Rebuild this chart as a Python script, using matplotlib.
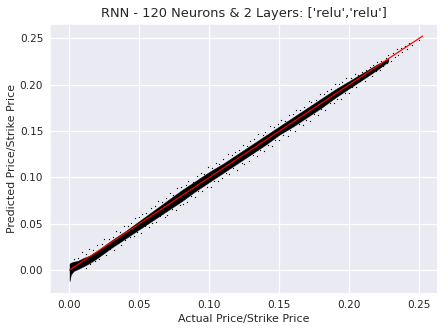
import matplotlib
matplotlib.use("Agg")
import matplotlib.pyplot as plt
import seaborn as sns

# dense part of the cloud
band_x = [0.0, 0.001, 0.003, 0.006, 0.01, 0.015, 0.02, 0.03, 0.04, 0.05, 0.06, 0.07, 0.08, 0.09, 0.10,
          0.11, 0.12, 0.13, 0.14, 0.15, 0.16, 0.17, 0.18, 0.19, 0.20, 0.21, 0.22, 0.228]
band_lo = [-0.012, -0.005, -0.001, 0.001, 0.004, 0.008, 0.013, 0.024, 0.034, 0.044, 0.054, 0.064, 0.074, 0.085, 0.095,
           0.105, 0.115, 0.125, 0.135, 0.146, 0.155, 0.165, 0.175, 0.186, 0.196, 0.206, 0.216, 0.225]
band_hi = [0.007, 0.008, 0.009, 0.010, 0.013, 0.016, 0.021, 0.032, 0.042, 0.053, 0.064, 0.075, 0.086, 0.096, 0.106,
           0.115, 0.125, 0.135, 0.145, 0.155, 0.165, 0.175, 0.185, 0.195, 0.204, 0.213, 0.222, 0.228]

# loose points above the dense part
upper_x = [0.003, 0.006, 0.009, 0.012, 0.014, 0.017, 0.02, 0.023, 0.025, 0.028, 0.031, 0.033, 0.036, 0.039, 0.042,
           0.044, 0.047, 0.05, 0.052, 0.055, 0.058, 0.061, 0.063, 0.066, 0.069, 0.072, 0.074, 0.077, 0.08, 0.083,
           0.085, 0.088, 0.091, 0.094, 0.096, 0.099, 0.102, 0.105, 0.107, 0.11, 0.113, 0.116, 0.118, 0.121, 0.124,
           0.127, 0.129, 0.132, 0.135, 0.138, 0.14, 0.143, 0.146, 0.149, 0.151, 0.154, 0.157, 0.16, 0.162, 0.165,
           0.168, 0.171, 0.173, 0.176, 0.179, 0.182, 0.184, 0.187, 0.19, 0.193, 0.195, 0.198, 0.201, 0.204, 0.206,
           0.209, 0.212, 0.215, 0.217, 0.22, 0.223, 0.226, 0.228, 0.231, 0.234, 0.237, 0.24, 0.243]
upper_y = [0.012, 0.013, 0.019, 0.017, 0.023, 0.022, 0.027, 0.028, 0.033, 0.034, 0.036, 0.042, 0.041, 0.048, 0.047,
           0.051, 0.056, 0.057, 0.061, 0.062, 0.067, 0.069, 0.074, 0.073, 0.078, 0.083, 0.081, 0.088, 0.09, 0.092,
           0.096, 0.095, 0.101, 0.105, 0.104, 0.111, 0.11, 0.116, 0.114, 0.12, 0.125, 0.124, 0.127, 0.13, 0.135,
           0.134, 0.139, 0.141, 0.147, 0.146, 0.149, 0.155, 0.154, 0.158, 0.162, 0.161, 0.167, 0.168, 0.173, 0.173,
           0.176, 0.182, 0.181, 0.184, 0.19, 0.19, 0.193, 0.195, 0.201, 0.201, 0.203, 0.207, 0.207, 0.211, 0.21,
           0.214, 0.216, 0.219, 0.221, 0.224, 0.226, 0.229, 0.232, 0.234, 0.238, 0.24, 0.242, 0.245]

# loose points below the dense part
lower_x = [0.012, 0.015, 0.018, 0.021, 0.024, 0.026, 0.029, 0.032, 0.035, 0.037, 0.04, 0.043, 0.046, 0.048, 0.051,
           0.054, 0.057, 0.059, 0.062, 0.065, 0.068, 0.07, 0.073, 0.076, 0.079, 0.081, 0.084, 0.087, 0.09, 0.092,
           0.095, 0.098, 0.101, 0.103, 0.106, 0.109, 0.112, 0.114, 0.117, 0.12, 0.123, 0.125, 0.128, 0.131, 0.134,
           0.136, 0.139, 0.142, 0.145, 0.147, 0.15, 0.153, 0.156, 0.158, 0.161, 0.164, 0.167, 0.169, 0.172, 0.175,
           0.178, 0.18, 0.183, 0.186, 0.189, 0.191, 0.194, 0.197, 0.2, 0.202, 0.205, 0.208, 0.211, 0.213, 0.216,
           0.219, 0.222, 0.224, 0.227, 0.23, 0.233, 0.235, 0.238, 0.241, 0.245, 0.25]
lower_y = [0.002, 0.007, 0.01, 0.012, 0.018, 0.016, 0.023, 0.022, 0.029, 0.027, 0.032, 0.036, 0.037, 0.041, 0.04,
           0.048, 0.046, 0.051, 0.052, 0.058, 0.057, 0.059, 0.066, 0.065, 0.07, 0.071, 0.073, 0.08, 0.079, 0.085,
           0.085, 0.09, 0.09, 0.096, 0.096, 0.099, 0.105, 0.104, 0.11, 0.108, 0.116, 0.114, 0.118, 0.124, 0.123,
           0.129, 0.128, 0.135, 0.134, 0.14, 0.14, 0.146, 0.145, 0.151, 0.15, 0.158, 0.156, 0.162, 0.161, 0.168,
           0.167, 0.174, 0.173, 0.18, 0.18, 0.185, 0.185, 0.191, 0.191, 0.198, 0.198, 0.204, 0.204, 0.209, 0.209,
           0.215, 0.216, 0.22, 0.223, 0.226, 0.23, 0.232, 0.235, 0.238, 0.243, 0.248]

line_x = [0.0, 0.2525]
line_y = [0.0, 0.2525]

xticks = [0.00, 0.05, 0.10, 0.15, 0.20, 0.25]
yticks = [0.00, 0.05, 0.10, 0.15, 0.20, 0.25]

sns.set_style("darkgrid")
plt.rcParams['font.family'] = ['DejaVu Sans']

fig, ax = plt.subplots(figsize=(448 / 72, 333 / 72), dpi=72)
fig.subplots_adjust(left=0.112, right=0.975, top=0.928, bottom=0.12)

ax.grid(True, lw=1.2)
ax.fill_between(band_x, band_lo, band_hi, color='black', lw=0.4)
ax.scatter(upper_x, upper_y, s=1.6, color='black', lw=0, marker='o')
ax.scatter(lower_x, lower_y, s=1.6, color='black', lw=0, marker='o')
ax.plot(line_x, line_y, '-', color='red', lw=1.2)

ax.set_xlim(-0.0138, 0.2626)
ax.set_ylim(-0.0248, 0.2655)
ax.set_xticks(xticks)
ax.set_yticks(yticks)
ax.tick_params(labelsize=10.5)
ax.set_xlabel('Actual Price/Strike Price', fontsize=11, labelpad=3.5)
ax.set_ylabel('Predicted Price/Strike Price', fontsize=11, labelpad=3)
ax.set_title("RNN - 120 Neurons & 2 Layers: ['relu','relu']", fontsize=13, pad=6.5)

fig.savefig('out.png', dpi=72)
